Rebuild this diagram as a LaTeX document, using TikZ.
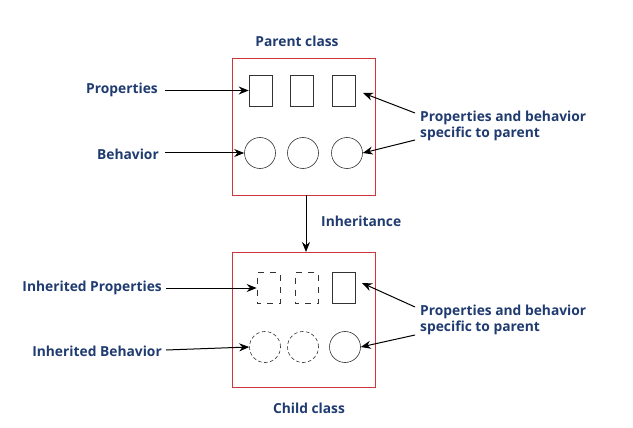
\documentclass[tikz,border=0pt]{standalone}
\usepackage{fontspec}
\setmainfont{Open Sans}
\usetikzlibrary{arrows.meta}
\definecolor{txtblue}{HTML}{1F3B70}
\definecolor{boxred}{HTML}{D0343C}
\begin{document}
\begin{tikzpicture}[x=1pt,y=-1pt,
  lbl/.style={text=txtblue,font=\fontsize{13.8}{16.5}\selectfont\bfseries,inner sep=1pt},
  cls/.style={draw=boxred,line width=1pt},
  prop/.style={draw=black!80,line width=0.6pt,minimum width=23pt,minimum height=31pt,inner sep=0pt},
  beh/.style={draw=black!80,line width=0.6pt,circle,minimum size=31pt,inner sep=0pt},
  dprop/.style={prop,dash pattern=on 6pt off 6pt,dash phase=2pt},
  dbeh/.style={beh,dash pattern=on 3.5pt off 2.5pt},
  arr/.style={-{Stealth[length=10pt,width=8pt]},line width=1pt}]
\useasboundingbox (0,0) rectangle (633,428);
% parent
\node[lbl] (ptitle) at (297,41) {Parent class};
\node[cls,minimum width=143pt,minimum height=136pt,inner sep=0pt] (parent) at (303.5,127) {};
\node[prop] (p1) at (260.5,90.5) {};
\node[prop] (p2) at (302,90.5) {};
\node[prop] (p3) at (343.5,90.5) {};
\node[beh] (b1) at (260,153) {};
\node[beh] (b2) at (303,153) {};
\node[beh] (b3) at (347,153) {};
% child
\node[cls,minimum width=143pt,minimum height=135pt,inner sep=0pt] (child) at (303.5,319.5) {};
\node[lbl] (ctitle) at (309,408) {Child class};
\node[dprop] (c1) at (268.5,288) {};
\node[dprop] (c2) at (306.5,288) {};
\node[prop] (c3) at (344,288) {};
\node[dbeh] (d1) at (265,347) {};
\node[dbeh] (d2) at (303,347) {};
\node[beh] (d3) at (345,347) {};
% inheritance
\coordinate (itop) at (306,195);
\coordinate (ibot) at (306,252);
\draw[arr] (itop) -- (ibot);
\node[lbl,anchor=west] (inh) at (320,221) {Inheritance};
% left labels
\node[lbl,anchor=east] (lprop) at (159,90) {Properties};
\node[lbl,anchor=east] (lbeh) at (160,154) {Behavior};
\node[lbl,anchor=east] (liprop) at (163,288) {Inherited Properties};
\node[lbl,anchor=east] (libeh) at (163,351) {Inherited Behavior};
\coordinate (a1) at (165,90.5);
\coordinate (a2) at (165,153);
\coordinate (a3) at (166,288);
\coordinate (a4) at (166,350);
\draw[arr] (a1) -- (p1.west);
\draw[arr] (a2) -- (b1.west);
\draw[arr] (a3) -- (c1.west);
\draw[arr] (a4) -- (d1.west);
% right labels
\node[lbl,anchor=west,align=left] (rp) at (419,126) {Properties and behavior\\specific to parent};
\node[lbl,anchor=west,align=left] (rc) at (419,320) {Properties and behavior\\specific to parent};
\coordinate (rp1) at (415,113);
\coordinate (rp2) at (415,140);
\coordinate (rc1) at (415,307);
\coordinate (rc2) at (415,335);
\coordinate (t1) at (363,93);
\coordinate (t2) at (362,283);
\draw[arr] (rp1) -- (t1);
\draw[arr] (rp2) -- (b3.east);
\draw[arr] (rc1) -- (t2);
\draw[arr] (rc2) -- (d3.east);
\end{tikzpicture}
\end{document}
